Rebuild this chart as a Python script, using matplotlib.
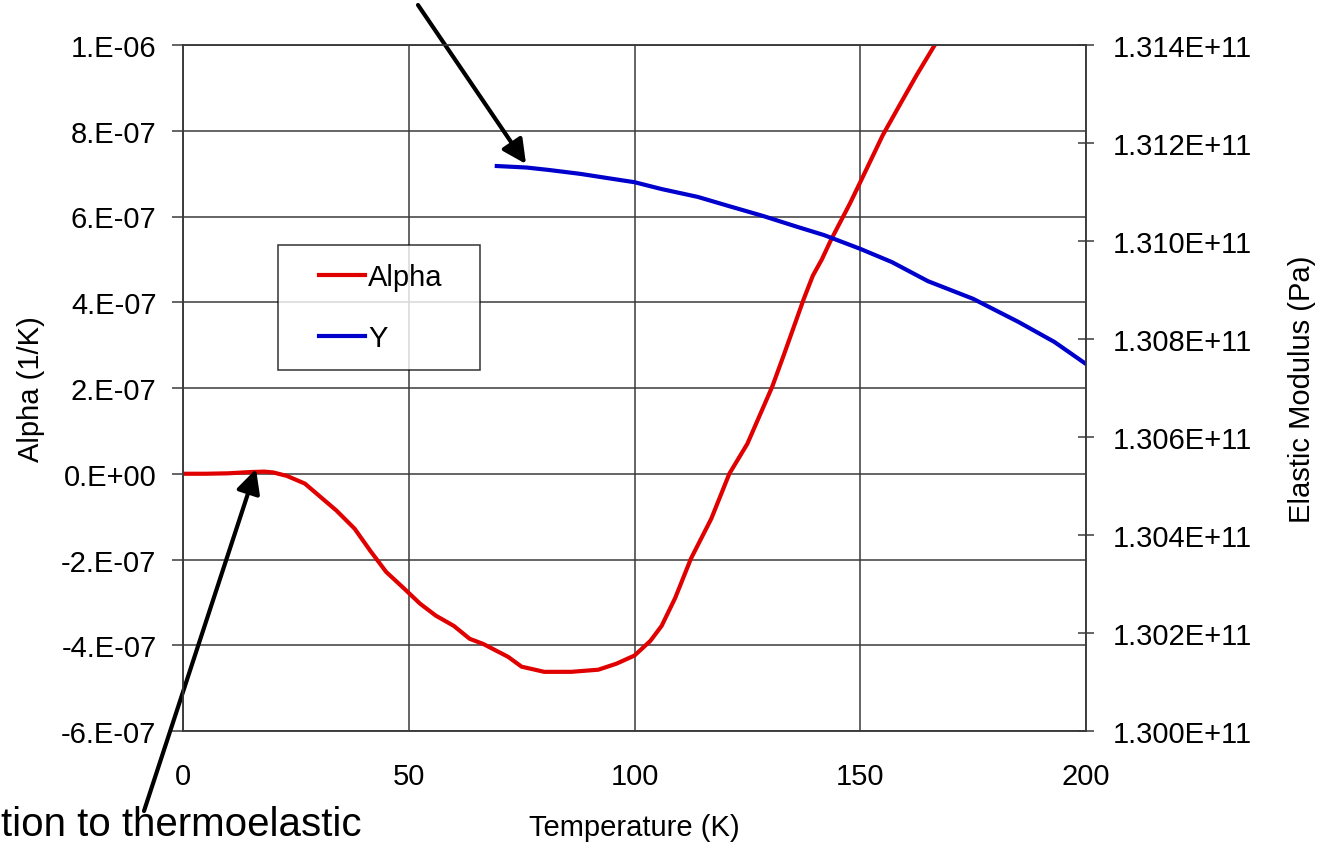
import numpy as np
import matplotlib
matplotlib.use("Agg")
import matplotlib.pyplot as plt
from matplotlib.ticker import FuncFormatter, FixedLocator

plt.rcParams['font.family'] = ['Liberation Sans', 'DejaVu Sans']

# thermal expansion coefficient
temp_alpha = [0, 5, 10, 15, 18, 20, 23, 27, 30, 34, 38, 41.5, 45, 49, 52.5, 56, 60, 63.5,
              66.5, 72, 75, 80, 86, 92, 96, 100, 103.5, 106, 109, 112.5, 117, 121, 125,
              130.5, 133, 137.5, 139.5, 141.5, 143.5, 147.7, 150, 155, 159, 162.5, 166.5, 170]
alpha = [0, 0, 0.01, 0.04, 0.05, 0.03, -0.05, -0.23, -0.5, -0.86, -1.28, -1.8, -2.29,
         -2.68, -3.03, -3.31, -3.55, -3.85, -3.97, -4.27, -4.5, -4.62, -4.62, -4.57,
         -4.43, -4.24, -3.9, -3.55, -2.9, -1.98, -1.05, 0.0, 0.7, 2.03, 2.75, 4.08,
         4.62, 5.0, 5.45, 6.3, 6.8, 7.9, 8.65, 9.3, 10.0, 10.6]  # x 1e-7 1/K

# elastic modulus
temp_y = [69.5, 76, 81, 88, 95, 100, 106, 114, 121, 128.5, 136, 142, 150, 157, 165, 175,
          185, 193, 200]
modulus = [131.153, 131.150, 131.145, 131.137, 131.127, 131.120, 131.106, 131.090,
           131.071, 131.051, 131.029, 131.012, 130.984, 130.957, 130.918, 130.882,
           130.835, 130.794, 130.749]  # GPa

x_ticks = [0, 50, 100, 150, 200]
left_ticks = [-6e-7, -4e-7, -2e-7, 0, 2e-7, 4e-7, 6e-7, 8e-7, 1e-6]
right_ticks = [1.300e11, 1.302e11, 1.304e11, 1.306e11, 1.308e11, 1.310e11, 1.312e11, 1.314e11]

W, H = 1322, 845
fig = plt.figure(figsize=(W / 100, H / 100), dpi=100)
ax = fig.add_axes([183 / W, 1 - 732 / H, (1086 - 183) / W, (732 - 46) / H])
ax2 = ax.twinx()

grid_c = '#3a3a3a'
ax.plot(temp_alpha, np.array(alpha) * 1e-7, color='#e00000', lw=3, label='Alpha')
ax2.plot(temp_y, np.array(modulus) * 1e9, color='#0000cc', lw=3, label='Y')
ax.plot([], [], color='#0000cc', lw=3, label='Y')

ax.set_xlim(0, 200)
ax.set_ylim(-6e-7, 1e-6)
ax2.set_ylim(1.300e11, 1.314e11)

ax.xaxis.set_major_locator(FixedLocator(x_ticks))
ax.yaxis.set_major_locator(FixedLocator(left_ticks))
ax2.yaxis.set_major_locator(FixedLocator(right_ticks))
ax.yaxis.set_major_formatter(FuncFormatter(lambda v, p: format(v, '#.0E')))
ax2.yaxis.set_major_formatter(FuncFormatter(lambda v, p: format(v, '.3E')))

ax.grid(True, color=grid_c, lw=1.1)
ax.set_axisbelow(True)
for a in (ax, ax2):
    for s in a.spines.values():
        s.set_color(grid_c)
        s.set_linewidth(1.1)

fs = 21
ax.tick_params(axis='x', length=0, pad=22, labelsize=fs)
ax.tick_params(axis='y', length=8, width=1.1, color=grid_c, pad=11, labelsize=fs)
ax2.tick_params(axis='y', direction='inout', length=11, width=1.1, color=grid_c,
                pad=14, labelsize=fs)

ax.set_xlabel('Temperature (K)', fontsize=21, labelpad=17)
ax.set_ylabel('Alpha (1/K)', fontsize=21, labelpad=12)
ax2.set_ylabel('Elastic Modulus (Pa)', fontsize=21, labelpad=26)

leg = ax.legend(loc='upper left', bbox_to_anchor=(0.105, 0.531, 0.224, 0.177),
                mode='expand', fontsize=fs, frameon=True, fancybox=False,
                borderpad=0.6, labelspacing=1.15, handlelength=2.4, handletextpad=0.1,
                borderaxespad=0)
leg.get_frame().set_edgecolor('black')
leg.get_frame().set_linewidth(1.1)
# leave a blank gap before each legend line, as in the original
for ln in leg.get_lines():
    xd = np.asarray(ln.get_xdata(), dtype=float)
    ln.set_xdata(np.linspace(xd[0] + 17, xd[-1], len(xd)))

# arrows and the cut-off note
arrow = dict(arrowstyle='-|>', lw=3, color='black', mutation_scale=36, shrinkA=0, shrinkB=0)
ax.annotate('', xy=(526, H - 165), xycoords='figure pixels',
            xytext=(418, H - 6), textcoords='figure pixels', arrowprops=arrow)
ax.annotate('', xy=(256, H - 470), xycoords='figure pixels',
            xytext=(144, H - 812), textcoords='figure pixels', arrowprops=arrow)
fig.text(1 / W, 1 / H, 'tion to thermoelastic', fontsize=29, va='bottom', ha='left')

fig.savefig('out.png', dpi=100)
